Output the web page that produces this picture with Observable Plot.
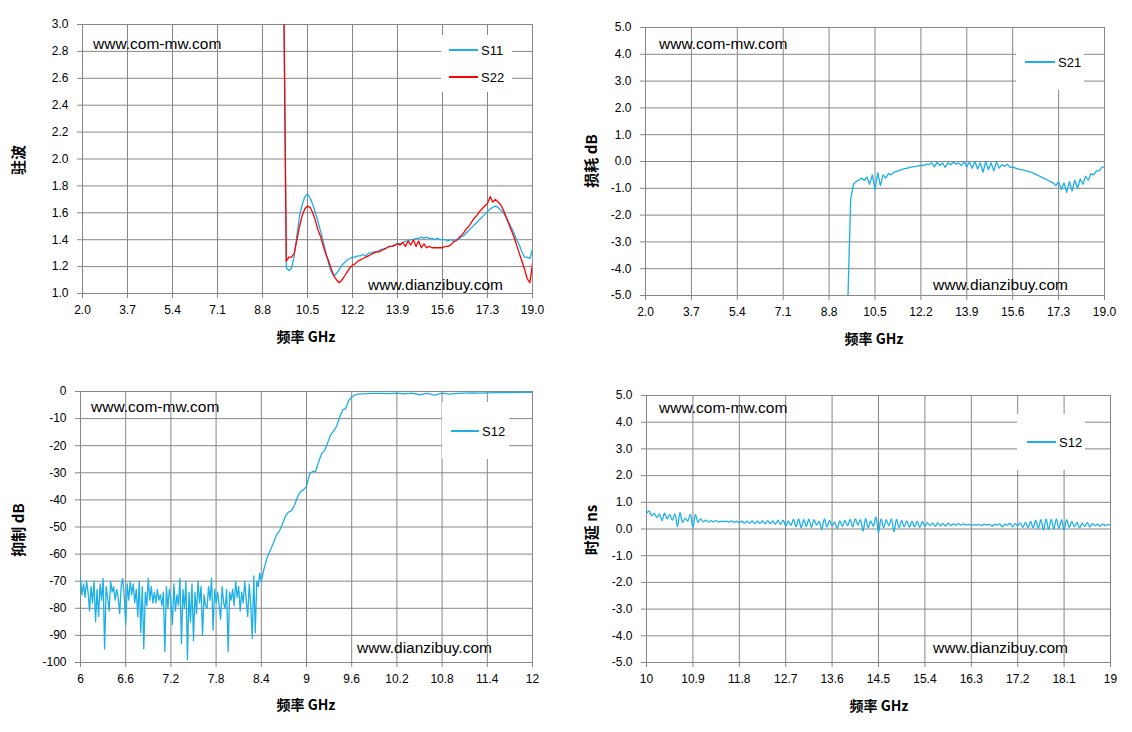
<!DOCTYPE html>
<html><head><meta charset="utf-8">
<script src="https://cdn.jsdelivr.net/npm/d3@7"></script>
<script src="https://cdn.jsdelivr.net/npm/@observablehq/plot@0.6"></script>
<style>
body{margin:0;background:#fff;}
#wrap{position:relative;width:1132px;height:732px;overflow:hidden;font-family:"Liberation Sans",Arial,sans-serif;color:#000;}
.panel{position:absolute;}
.panel svg{display:block;}
.wm{position:absolute;font-size:15.5px;line-height:1;white-space:nowrap;transform:translateY(-50%);}
.ytitle{position:absolute;font-family:"Noto Sans CJK SC","Liberation Sans",sans-serif;font-weight:bold;font-size:15px;line-height:1;white-space:nowrap;transform:translate(-50%,-50%) rotate(-90deg);}
.xtitle{position:absolute;font-family:"Noto Sans CJK SC","Liberation Sans",sans-serif;font-weight:bold;font-size:14px;line-height:1;white-space:nowrap;transform:translate(-50%,-50%);}
.legend{position:absolute;background:#fff;}
.sw{position:absolute;height:1.5px;}
.lt{position:absolute;font-size:13px;line-height:1;transform:translateY(-50%);white-space:nowrap;}
</style></head>
<body><div id="wrap"></div>
<script>
// ---------- tick labels ----------
const vswrXTicks = [2.0, 3.7, 5.4, 7.1, 8.8, 10.5, 12.2, 13.9, 15.6, 17.3, 19.0];
const vswrYTicks = [1.0, 1.2, 1.4, 1.6, 1.8, 2.0, 2.2, 2.4, 2.6, 2.8, 3.0];
const lossXTicks = [2.0, 3.7, 5.4, 7.1, 8.8, 10.5, 12.2, 13.9, 15.6, 17.3, 19.0];
const lossYTicks = [-5, -4, -3, -2, -1, 0, 1, 2, 3, 4, 5];
const rejXTicks = [6, 6.6, 7.2, 7.8, 8.4, 9, 9.6, 10.2, 10.8, 11.4, 12];
const rejYTicks = [0, -10, -20, -30, -40, -50, -60, -70, -80, -90, -100];
const delayXTicks = [10, 10.9, 11.8, 12.7, 13.6, 14.5, 15.4, 16.3, 17.2, 18.1, 19];
const delayYTicks = [-5, -4, -3, -2, -1, 0, 1, 2, 3, 4, 5];

// ---------- series values (regular frequency sampling: start, step) ----------
// VSWR S11, 9.6..19.0 GHz step 0.1
const s11Start = 9.6, s11Step = 0.1;
const s11Values = [3.3, 1.19, 1.17, 1.19, 1.28, 1.43, 1.58, 1.66, 1.72, 1.74,
 1.71, 1.66, 1.60, 1.53, 1.46, 1.38, 1.30, 1.22, 1.16, 1.13,
 1.15, 1.18, 1.21, 1.23, 1.25, 1.26, 1.27, 1.27, 1.28, 1.28,
 1.29, 1.28, 1.30, 1.30, 1.31, 1.31, 1.32, 1.33, 1.33, 1.34,
 1.35, 1.35, 1.36, 1.37, 1.37, 1.38, 1.39, 1.39, 1.40, 1.40,
 1.41, 1.41, 1.42, 1.41, 1.42, 1.41, 1.41, 1.40, 1.41, 1.40,
 1.40, 1.40, 1.39, 1.40, 1.39, 1.40, 1.40, 1.42, 1.43, 1.45,
 1.47, 1.49, 1.51, 1.53, 1.55, 1.57, 1.59, 1.61, 1.63, 1.64,
 1.65, 1.64, 1.62, 1.60, 1.57, 1.53, 1.49, 1.45, 1.40, 1.36,
 1.31, 1.27, 1.27, 1.26, 1.33];
// VSWR S22, 9.6..19.0 GHz step 0.1
const s22Start = 9.6, s22Step = 0.1;
const s22Values = [3.3, 1.24, 1.27, 1.27, 1.30, 1.40, 1.50, 1.58, 1.63, 1.65,
 1.64, 1.60, 1.54, 1.47, 1.42, 1.35, 1.29, 1.24, 1.18, 1.13,
 1.10, 1.08, 1.10, 1.13, 1.16, 1.19, 1.21, 1.22, 1.24, 1.25,
 1.26, 1.27, 1.28, 1.29, 1.30, 1.31, 1.31, 1.32, 1.33, 1.34,
 1.35, 1.35, 1.36, 1.37, 1.36, 1.38, 1.35, 1.39, 1.36, 1.40,
 1.35, 1.39, 1.34, 1.37, 1.34, 1.35, 1.34, 1.34, 1.34, 1.34,
 1.34, 1.35, 1.35, 1.36, 1.38, 1.39, 1.41, 1.43, 1.45, 1.48,
 1.50, 1.53, 1.56, 1.58, 1.61, 1.63, 1.65, 1.67, 1.72, 1.68,
 1.70, 1.68, 1.66, 1.62, 1.57, 1.52, 1.47, 1.42, 1.36, 1.30,
 1.24, 1.18, 1.11, 1.08, 1.22];
// Insertion loss S21, 9.5..19.0 GHz step 0.1
const s21Start = 9.5, s21Step = 0.1;
const s21Values = [-5.0, -1.4, -0.85, -0.75, -0.70, -0.62, -0.70, -0.58, -0.85, -0.50,
 -1.05, -0.42, -0.90, -0.50, -0.62, -0.45, -0.50, -0.40, -0.38, -0.33,
 -0.30, -0.27, -0.25, -0.22, -0.20, -0.18, -0.16, -0.14, -0.15, -0.10,
 -0.12, -0.05, -0.20, -0.03, -0.15, -0.05, -0.22, -0.04, -0.12, -0.02,
 -0.10, -0.05, -0.15, 0.0, -0.20, -0.02, -0.25, 0.0, -0.28, -0.05,
 -0.40, 0.0, -0.30, -0.05, -0.35, -0.02, -0.25, -0.12, -0.18, -0.10,
 -0.22, -0.20, -0.25, -0.28, -0.30, -0.32, -0.35, -0.38, -0.40, -0.45,
 -0.50, -0.55, -0.60, -0.65, -0.70, -0.75, -0.80, -0.90, -0.75, -1.05,
 -0.80, -1.15, -0.75, -1.10, -0.70, -1.00, -0.65, -0.85, -0.55, -0.70,
 -0.45, -0.50, -0.35, -0.35, -0.22, -0.20];
// Rejection S12: stop band 6.00..8.38 step 0.02
const rejNoiseStart = 6.0, rejNoiseStep = 0.02;
const rejNoiseValues = [-69, -75, -71, -76, -70, -74, -81, -72, -78, -70,
 -85, -73, -83, -71, -77, -69, -95, -72, -76, -81,
 -70, -74, -72, -77, -73, -76, -82, -72, -69, -75,
 -86, -71, -77, -70, -75, -71, -78, -73, -83, -70,
 -89, -72, -95, -74, -79, -69, -77, -72, -78, -74,
 -78, -73, -77, -75, -79, -74, -96, -72, -80, -73,
 -77, -86, -71, -81, -75, -79, -69, -93, -73, -80,
 -70, -99, -74, -85, -71, -92, -74, -82, -70, -78,
 -72, -90, -75, -79, -80, -72, -77, -69, -88, -73,
 -78, -74, -79, -84, -72, -78, -80, -73, -96, -74,
 -77, -73, -79, -70, -76, -72, -81, -74, -78, -70,
 -77, -83, -71, -79, -91, -68, -89, -70, -72, -67];
// Rejection S12: transition 8.40..9.68 step 0.04
const rejRiseStart = 8.40, rejRiseStep = 0.04;
const rejRiseValues = [-70, -65, -61, -58.5, -56, -53, -51.5, -49, -46, -44.5,
 -44, -42, -39, -37, -36.3, -35, -30.5, -29.5, -29.5, -26,
 -23, -21.8, -19, -16, -14.5, -12.8, -9.5, -6.8, -6.3, -3.3,
 -2.1, -1.3, -1.0];
// Rejection S12: pass band 9.8..12.0 step 0.1
const rejPassStart = 9.8, rejPassStep = 0.1;
const rejPassValues = [-0.8, -0.7, -0.7, -0.8, -0.6, -0.9, -0.6, -1.2, -0.7, -1.3,
 -0.6, -1.0, -0.7, -0.6, -0.5, -0.6, -0.5, -0.4, -0.4, -0.4,
 -0.3, -0.3, -0.3];
// Group delay S12, 10.0..19.0 step 0.05
const delayStart = 10.0, delayStep = 0.05;
const delayValues = [0.58, 0.68, 0.50, 0.58, 0.44, 0.56, 0.31, 0.59, 0.38, 0.55,
 0.33, 0.57, 0.09, 0.62, 0.25, 0.40, 0.30, 0.56, 0.06, 0.54,
 0.25, 0.38, 0.27, 0.33, 0.26, 0.31, 0.27, 0.31, 0.27, 0.29,
 0.28, 0.29, 0.26, 0.30, 0.25, 0.29, 0.24, 0.29, 0.22, 0.29,
 0.21, 0.30, 0.20, 0.29, 0.21, 0.30, 0.19, 0.31, 0.20, 0.30,
 0.18, 0.32, 0.17, 0.33, 0.12, 0.30, 0.14, 0.36, 0.08, 0.38,
 0.05, 0.35, 0.10, 0.37, 0.06, 0.35, 0.15, 0.28, -0.02, 0.38,
 0.08, 0.32, 0.12, 0.26, 0.02, 0.30, 0.10, 0.32, 0.12, 0.36,
 0.08, 0.38, 0.15, 0.35, -0.08, 0.40, 0.05, 0.30, 0.10, 0.45,
 -0.14, 0.38, 0.05, 0.35, 0.12, 0.38, -0.10, 0.36, 0.05, 0.32,
 0.08, 0.30, 0.06, 0.28, 0.08, 0.29, 0.05, 0.28, 0.10, 0.24,
 0.13, 0.22, 0.10, 0.23, 0.12, 0.20, 0.11, 0.22, 0.13, 0.19,
 0.14, 0.20, 0.15, 0.19, 0.15, 0.17, 0.14, 0.16, 0.15, 0.17,
 0.13, 0.18, 0.15, 0.17, 0.10, 0.18, 0.14, 0.19, 0.08, 0.18,
 0.14, 0.21, 0.08, 0.20, 0.12, 0.23, 0.06, 0.25, 0.05, 0.28,
 0.04, 0.32, 0.02, 0.35, -0.03, 0.38, -0.02, 0.36, 0.00, 0.38,
 0.02, 0.34, -0.04, 0.35, 0.06, 0.28, 0.08, 0.25, 0.04, 0.22,
 0.10, 0.24, 0.08, 0.20, 0.12, 0.18, 0.10, 0.19, 0.13, 0.17,
 0.15];

// ---------- helpers ----------
const GRID = "#878787";
const BLUE = "#1CAFE8";
const RED = "#FF0000";
const toRows = (start, step, vals) => vals.map((v, i) => ({f: +(start + i * step).toFixed(4), v}));
const fmt1 = d => d.toFixed(1);
const fmtPlain = d => String(d);
const wrap = document.getElementById("wrap");

function addEl(cls, text, css) {
  const el = document.createElement("div");
  el.className = cls;
  if (text != null) el.textContent = text;
  Object.assign(el.style, css);
  wrap.appendChild(el);
  return el;
}

function makePanel(c) {
  const div = addEl("panel", null, {left: c.left + "px", top: c.top + "px"});
  const chart = Plot.plot({
    width: c.width, height: c.height,
    marginLeft: c.ml, marginRight: c.mr, marginTop: c.mt, marginBottom: c.mb,
    style: {background: "transparent", color: "#000", fontFamily: '"Liberation Sans", Arial, sans-serif', fontSize: "12px", overflow: "visible"},
    x: {domain: c.xDomain},
    y: {domain: c.yDomain},
    marks: [
      Plot.ruleX(c.xTicks, {stroke: GRID, strokeWidth: 1}),
      Plot.ruleY(c.yTicks, {stroke: GRID, strokeWidth: 1}),
      Plot.axisX({ticks: c.xTicks, tickFormat: c.xFmt, tickSize: 5, tickPadding: 7, stroke: GRID, label: null}),
      Plot.axisY({ticks: c.yTicks, tickFormat: c.yFmt, tickSize: 5, tickPadding: 9, stroke: GRID, label: null}),
      ...c.series.map(s => Plot.line(s.data, {x: "f", y: "v", stroke: s.color, strokeWidth: 1.3, curve: c.curve || "linear", clip: true}))
    ]
  });
  div.appendChild(chart);
}

function legend(box, entries) {
  addEl("legend", null, {left: box[0] + "px", top: box[1] + "px", width: box[2] + "px", height: box[3] + "px"});
  entries.forEach(e => {
    addEl("sw", null, {left: e.x + "px", top: (e.y - 0.75) + "px", width: e.w + "px", background: e.color});
    addEl("lt", e.name, {left: (e.x + e.w + 3) + "px", top: e.y + "px"});
  });
}

// ---------- panels ----------
makePanel({left: 0, top: 0, width: 566, height: 350, ml: 82, mr: 34, mt: 24, mb: 57,
  xDomain: [2, 19], yDomain: [1, 3], xTicks: vswrXTicks, yTicks: vswrYTicks, xFmt: fmt1, yFmt: fmt1,
  series: [{data: toRows(s11Start, s11Step, s11Values), color: BLUE}, {data: toRows(s22Start, s22Step, s22Values), color: RED}]});
makePanel({left: 566, top: 0, width: 566, height: 350, ml: 79, mr: 28, mt: 27, mb: 55,
  xDomain: [2, 19], yDomain: [-5, 5], xTicks: lossXTicks, yTicks: lossYTicks, xFmt: fmt1, yFmt: fmt1,
  series: [{data: toRows(s21Start, s21Step, s21Values), color: BLUE}]});
makePanel({left: 0, top: 366, width: 566, height: 366, ml: 80, mr: 34, mt: 25, mb: 70,
  xDomain: [6, 12], yDomain: [-100, 0], xTicks: rejXTicks, yTicks: rejYTicks, xFmt: fmtPlain, yFmt: fmtPlain,
  series: [{data: [...toRows(rejNoiseStart, rejNoiseStep, rejNoiseValues), ...toRows(rejRiseStart, rejRiseStep, rejRiseValues), ...toRows(rejPassStart, rejPassStep, rejPassValues)], color: BLUE}]});
makePanel({left: 566, top: 366, width: 566, height: 366, ml: 80, mr: 22, mt: 29, mb: 70,
  xDomain: [10, 19], yDomain: [-5, 5], xTicks: delayXTicks, yTicks: delayYTicks, xFmt: fmtPlain, yFmt: fmt1,
  curve: "catmull-rom",
  series: [{data: toRows(delayStart, delayStep, delayValues), color: BLUE}]});

// ---------- legends ----------
legend([441, 35, 71, 57], [{name: "S11", color: BLUE, x: 449, y: 50, w: 29}, {name: "S22", color: RED, x: 449, y: 77, w: 29}]);
legend([1016, 28, 68, 62], [{name: "S21", color: BLUE, x: 1025, y: 62, w: 30}]);
legend([442, 402, 67, 57], [{name: "S12", color: BLUE, x: 451, y: 431, w: 28}]);
legend([1017, 414, 68, 56], [{name: "S12", color: BLUE, x: 1027, y: 442, w: 29}]);

// ---------- watermarks ----------
[[93, 44], [659, 44], [91, 407], [659, 408]].forEach(p => addEl("wm", "www.com-mw.com", {left: p[0] + "px", top: p[1] + "px"}));
[[368, 285], [933, 285], [357, 648], [933, 648]].forEach(p => addEl("wm", "www.dianzibuy.com", {left: p[0] + "px", top: p[1] + "px"}));

// ---------- axis titles ----------
[["驻波", 17, 160], ["损耗 dB", 590, 161], ["抑制 dB", 17, 530], ["时延 ns", 590, 530]].forEach(t => addEl("ytitle", t[0], {left: t[1] + "px", top: t[2] + "px"}));
[[306, 336], [874, 338], [306, 704], [879, 705]].forEach(p => addEl("xtitle", "频率 GHz", {left: p[0] + "px", top: p[1] + "px"}));
</script>
</body></html>
